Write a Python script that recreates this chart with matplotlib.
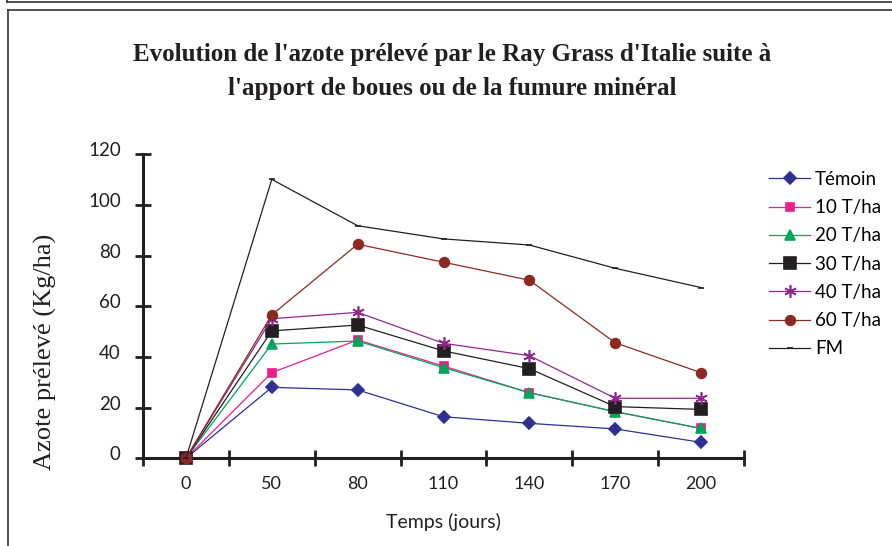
import matplotlib.pyplot as plt
import matplotlib.transforms as mtransforms
from matplotlib.lines import Line2D

# Data
jours = ["0", "50", "80", "110", "140", "170", "200"]
temoin = [0, 28.0, 27.0, 16.4, 13.8, 11.6, 6.3]
t10 = [0, 33.8, 46.7, 36.4, 25.9, 18.4, 11.8]
t20 = [0, 45.1, 46.3, 35.8, 25.9, 18.4, 11.8]
t30 = [0, 50.3, 52.6, 42.4, 35.4, 20.4, 19.3]
t40 = [0, 55.1, 57.6, 45.4, 40.5, 23.7, 23.7]
t60 = [0, 56.6, 84.5, 77.4, 70.3, 45.6, 33.8]
fm = [0, 110.1, 91.8, 86.6, 84.2, 75.0, 67.4]

series = [
    ("Témoin", temoin, "#2E3192", "D", 6),
    ("10 T/ha", t10, "#EC1E8C", "s", 6),
    ("20 T/ha", t20, "#00A65A", "^", 7),
    ("30 T/ha", t30, "#231F20", "s", 8),
    ("40 T/ha", t40, "#92278F", (6, 2, 0), 9),
    ("60 T/ha", t60, "#8B2A23", "o", 7),
    ("FM", fm, "#231F20", "_", 5),
]

sans = "Lato"
serif = "Liberation Serif"

fig = plt.figure(figsize=(8.92, 5.46), dpi=100)
ax = fig.add_axes([143 / 892, 87.7 / 546, 601 / 892, 304 / 546])

x = list(range(len(jours)))
for name, vals, col, mk, ms in series:
    ax.plot(x, vals, color=col, lw=0.9, marker=mk, markersize=ms,
            markerfacecolor=col, markeredgecolor=col, markeredgewidth=1.2,
            label=name, clip_on=False, zorder=3)

ax.set_xlim(-0.5, 6.5)
ax.set_ylim(0, 120)
for s in ["top", "right"]:
    ax.spines[s].set_visible(False)
for s in ["left", "bottom"]:
    ax.spines[s].set_linewidth(2.2)
    ax.spines[s].set_color("#231F20")

# x ticks between categories, labels centered on categories
ax.set_xticks([i - 0.5 for i in range(len(jours) + 1)])
ax.set_xticklabels([])
ax.set_xticks(x, minor=True)
ax.set_xticklabels(jours, minor=True, fontsize=13, family=sans, color="#231F20")
ax.tick_params(axis="x", which="major", direction="inout", length=12, width=2, color="#231F20")
ax.tick_params(axis="x", which="minor", length=0, pad=13)

ax.set_yticks(range(0, 121, 20))
ax.set_yticklabels([str(v) for v in range(0, 121, 20)], fontsize=13.5, family=sans, color="#231F20")
ax.tick_params(axis="y", direction="inout", length=12, width=2, color="#231F20", pad=10)
off = mtransforms.ScaledTranslation(0, 5 / 100, fig.dpi_scale_trans)
for lab in ax.get_yticklabels():
    lab.set_transform(lab.get_transform() + off)

ax.set_xlabel("Temps (jours)", fontsize=14, family=sans, color="#231F20", labelpad=15)
fig.text(45 / 892, 1 - 352 / 546, "Azote prélevé (Kg/ha)", rotation=90,
         ha="center", va="center", fontsize=19, family=serif, color="#231F20")

fig.text(452 / 892, 1 - 55 / 546, "Evolution de l'azote prélevé par le Ray Grass d'Italie suite à",
         ha="center", va="center", fontsize=18, family=serif, weight="bold", color="#231F20")
fig.text(452 / 892, 1 - 88 / 546, "l'apport de boues ou de la fumure minéral",
         ha="center", va="center", fontsize=18, family=serif, weight="bold", color="#231F20")

leg = fig.legend(loc="upper left", bbox_to_anchor=(769 / 892, 1 - 171 / 546),
                 frameon=False, borderpad=0, borderaxespad=0, handlelength=2.2,
                 handletextpad=0.25, labelspacing=0.6, prop={"family": sans, "size": 13.5})

# outer frames
fig.add_artist(Line2D([7 / 892, 1], [1 - 2 / 546, 1 - 2 / 546], color="#333333", lw=1.2))
fig.add_artist(Line2D([7 / 892, 7 / 892], [1, 1 - 2 / 546], color="#333333", lw=1.2))
fig.add_artist(Line2D([8 / 892, 1], [1 - 10 / 546, 1 - 10 / 546], color="#333333", lw=1.2))
fig.add_artist(Line2D([8 / 892, 8 / 892], [0, 1 - 10 / 546], color="#333333", lw=1.2))

fig.savefig("out.png", dpi=100)
